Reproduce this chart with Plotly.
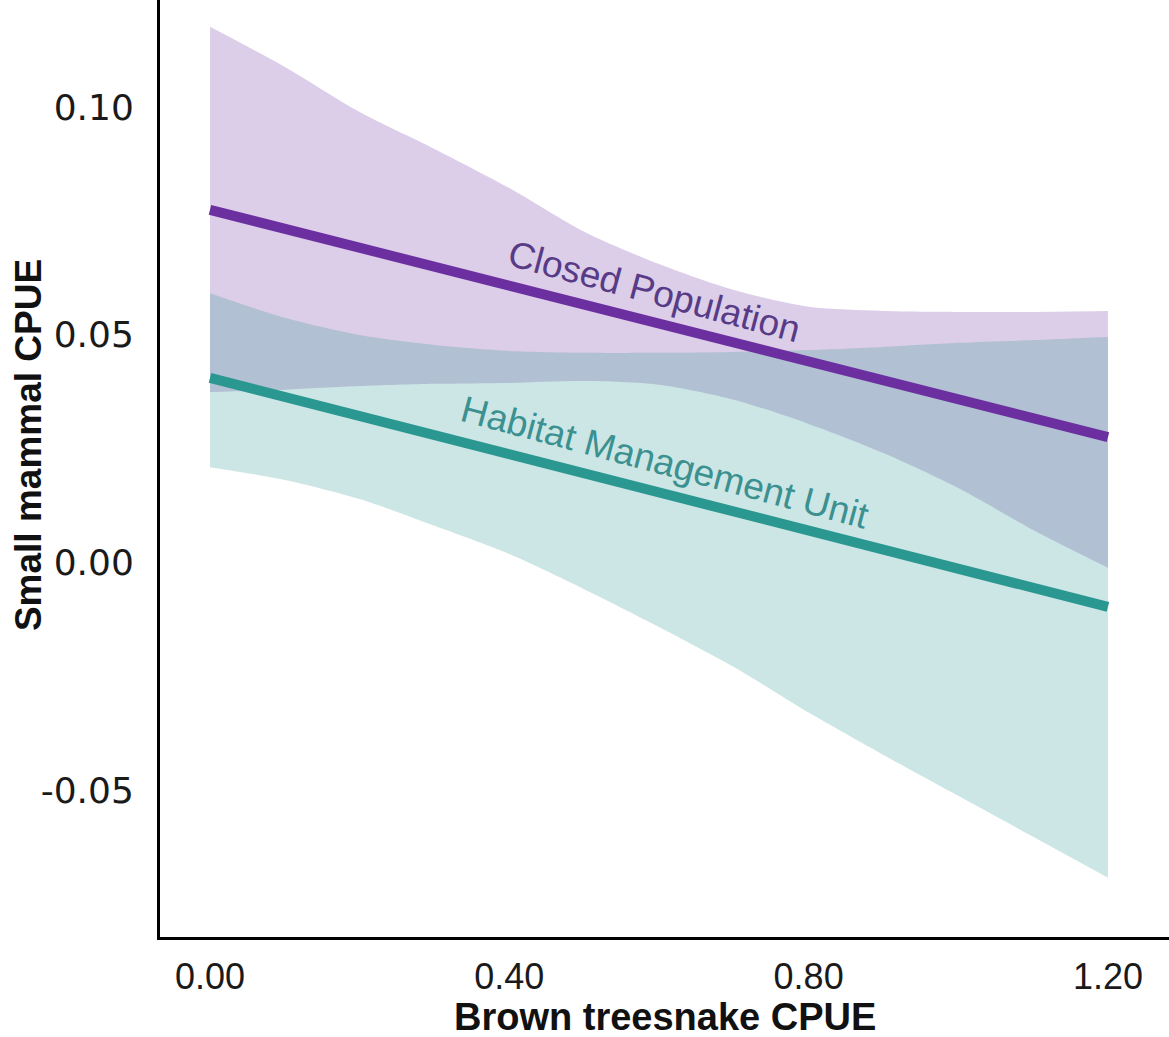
import plotly.graph_objects as go

# ---------------- data ----------------
x_grid = [0.0, 0.1, 0.2, 0.3, 0.4, 0.5, 0.6, 0.7, 0.8, 0.9, 1.0, 1.1, 1.2]

closed_upper = [0.1176, 0.1088, 0.0989, 0.0908, 0.0822, 0.0726, 0.0655,
                0.0598, 0.0561, 0.0552, 0.0550, 0.0550, 0.0552]
closed_lower = [0.0374, 0.0379, 0.0387, 0.0392, 0.0394, 0.0398, 0.0390,
                0.0357, 0.0304, 0.0240, 0.0163, 0.0071, -0.0012]

hmu_upper = [0.0591, 0.0537, 0.0499, 0.0477, 0.0464, 0.0460, 0.0460,
             0.0462, 0.0466, 0.0473, 0.0482, 0.0488, 0.0495]
hmu_lower = [0.0209, 0.0181, 0.0139, 0.0080, 0.0018, -0.0059, -0.0142,
             -0.0230, -0.0330, -0.0423, -0.0513, -0.0603, -0.0693]

fit_x = [0.0, 1.2]
closed_fit = [0.0774, 0.0275]
hmu_fit = [0.0405, -0.0098]

series_names = ["Closed Population", "Habitat Management Unit"]

x_tick_vals = [0.0, 0.4, 0.8, 1.2]
x_tick_text = ["0.00", "0.40", "0.80", "1.20"]
y_tick_vals = [-0.05, 0.0, 0.05, 0.10]
y_tick_text = ["-0.05", "0.00", "0.05", "0.10"]

x_title = "Brown treesnake CPUE"
y_title = "Small mammal CPUE"

# ---------------- style ----------------
PURPLE = "#6B2FA0"
TEAL = "#2B9791"
PURPLE_FILL = "rgba(107,47,160,0.24)"
TEAL_FILL = "rgba(43,151,145,0.24)"

fig = go.Figure()


def band(xs, upper, lower, color):
    # lower edge, then upper edge filled down to it (smooth edges)
    fig.add_trace(go.Scatter(
        x=xs, y=lower, mode="lines", line=dict(width=0, shape="spline", smoothing=0.8),
        hoverinfo="skip", showlegend=False))
    fig.add_trace(go.Scatter(
        x=xs, y=upper, mode="lines", line=dict(width=0, shape="spline", smoothing=0.8),
        fill="tonexty", fillcolor=color, hoverinfo="skip", showlegend=False))


band(x_grid, closed_upper, closed_lower, PURPLE_FILL)
band(x_grid, hmu_upper, hmu_lower, TEAL_FILL)

fig.add_trace(go.Scatter(
    x=fit_x, y=closed_fit, mode="lines", name=series_names[0],
    line=dict(color=PURPLE, width=10), showlegend=False))
fig.add_trace(go.Scatter(
    x=fit_x, y=hmu_fit, mode="lines", name=series_names[1],
    line=dict(color=TEAL, width=10), showlegend=False))

fig.add_annotation(x=0.593, y=0.0594, xref="x", yref="y",
                   text=series_names[0], textangle=15, showarrow=False,
                   font=dict(family="Liberation Sans, Arial", size=37, color="#573B86"))
fig.add_annotation(x=0.608, y=0.0220, xref="x", yref="y",
                   text=series_names[1], textangle=15, showarrow=False,
                   font=dict(family="Liberation Sans, Arial", size=37, color="#3B9090"))

# axis titles
fig.add_annotation(x=0.5, y=0, xref="paper", yref="paper", yanchor="middle",
                   yshift=-80, text=x_title, showarrow=False,
                   font=dict(family="Liberation Sans, Arial",
                             size=38, color="#111111", weight="bold"))
fig.add_annotation(x=0, y=0.525, xref="paper", yref="paper", xanchor="center",
                   xshift=-132, textangle=-90, text=y_title, showarrow=False,
                   font=dict(family="Liberation Sans, Arial",
                             size=37, color="#111111", weight="bold"))

fig.update_layout(
    width=1169, height=1037,
    margin=dict(l=160, r=0, t=0, b=100),
    paper_bgcolor="white", plot_bgcolor="white",
    showlegend=False,
)
fig.update_xaxes(
    range=[-0.0668, 1.2816], tickvals=x_tick_vals, ticktext=x_tick_text,
    showgrid=False, zeroline=False, showline=True, linecolor="black", linewidth=3,
    ticks="", ticklabelstandoff=6,
    tickfont=dict(family="Liberation Sans, Arial", size=36, color="#1a1a1a"),
)
fig.update_yaxes(
    range=[-0.0823, 0.1235], tickvals=y_tick_vals, ticktext=y_tick_text,
    showgrid=False, zeroline=False, showline=True, linecolor="black", linewidth=3,
    ticks="", ticklabelstandoff=16,
    tickfont=dict(family="DejaVu Sans", size=36, color="#1a1a1a"),
)

fig.write_html("out.html")
